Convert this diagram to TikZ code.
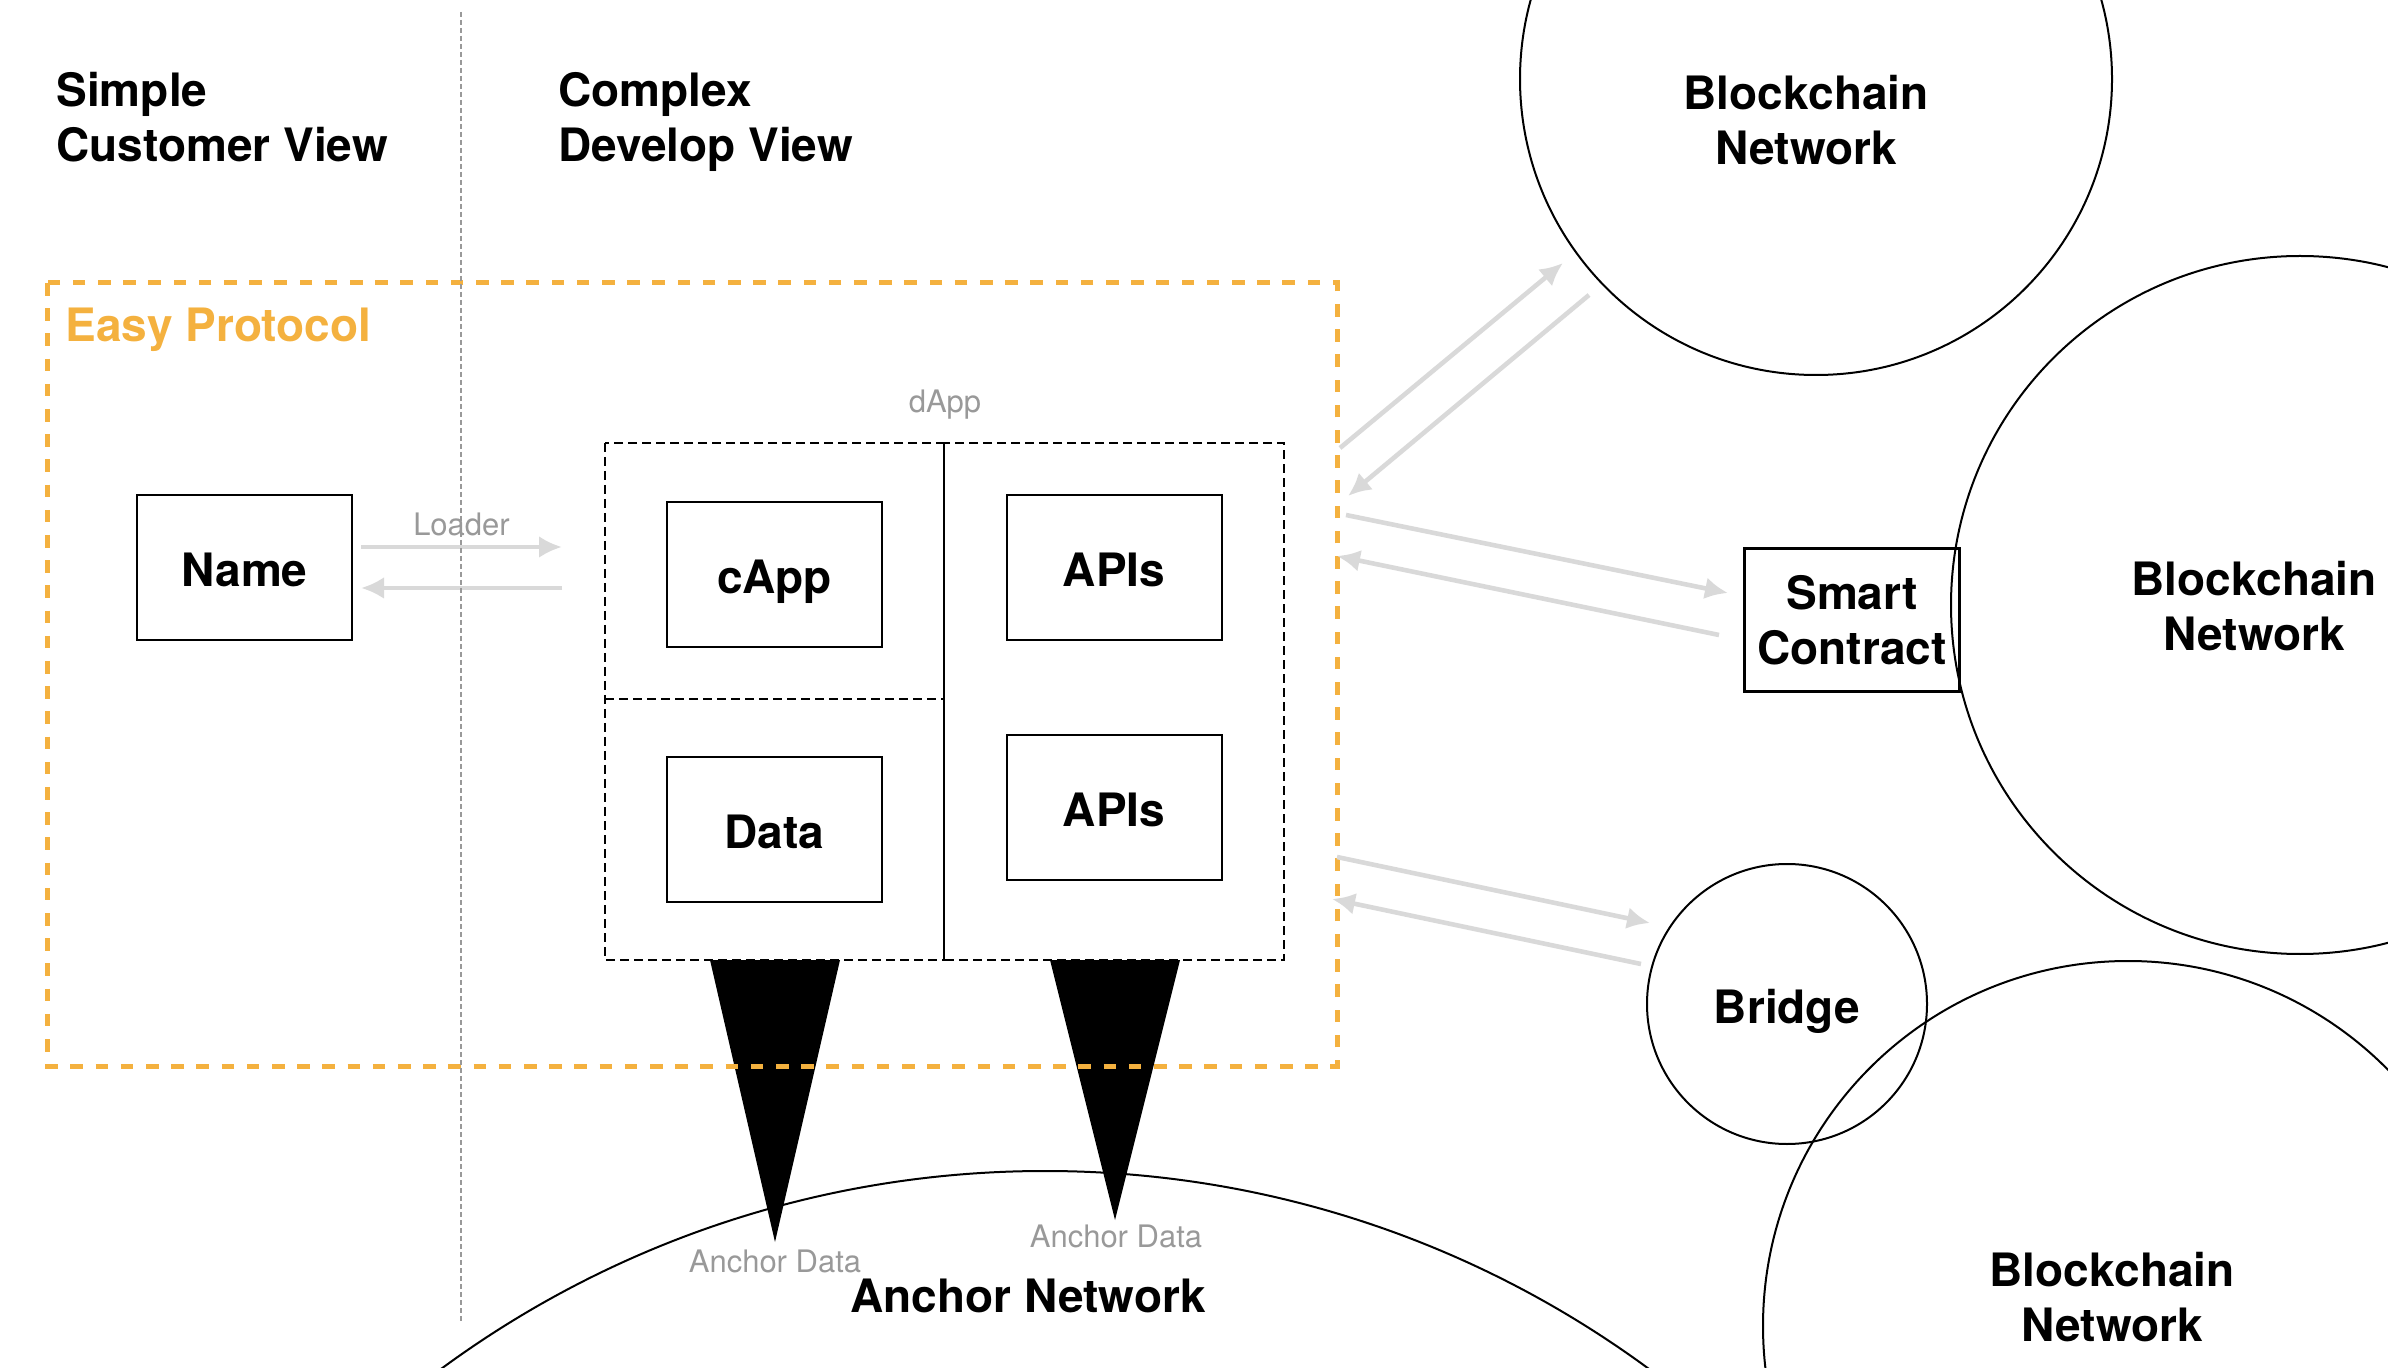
\documentclass[tikz,border=0pt]{standalone}
\usepackage{fontspec}
\setmainfont{TeX Gyre Heros}
\usepackage{xcolor}
\usetikzlibrary{arrows.meta,positioning}
\definecolor{easyorange}{RGB}{244,177,63}
\definecolor{softgray}{RGB}{217,217,217}
\definecolor{textgray}{RGB}{153,153,153}
\tikzset{
    plainbox/.style = {rectangle, draw, line width=1pt, inner sep=0pt, minimum width=107.5pt, minimum height=72.5pt, font=\fontsize{23}{27.5}\selectfont\bfseries},
    box/.style = {plainbox, text height=19pt, text depth=0pt},
    title/.style = {inner sep=0pt, font=\fontsize{23}{27.5}\selectfont\bfseries},
    net/.style = {circle, draw, line width=1pt, inner sep=0pt},
    hint/.style = {inner sep=0pt, text=textgray, font=\fontsize{15.5}{18}\selectfont},
    flow/.style = {-{Latex[length=11.5pt,width=11pt]}, draw=softgray, line width=2.3pt},
    cell/.style = {draw, line width=0.9pt, dash pattern=on 4.5pt off 2.5pt}
}

\begin{document}
\begin{tikzpicture}[x=0.5pt, y=-0.5pt]
    \useasboundingbox (0,0) rectangle (2388,1368);
    \clip (0,0) rectangle (2388,1368);

    % Networks
    \node[net, minimum size=296pt] (chaintop) at (1816,79) {};
    \node[net, minimum size=349pt] (chainmid) at (2300,605) {};
    \node[net, minimum size=365pt] (chainlow) at (2128,1326) {};
    \node[net, minimum size=1020pt] (anchornet) at (1045,2191) {};
    \node[net, minimum size=140pt, text height=19pt, text depth=0pt, font=\fontsize{23}{27.5}\selectfont\bfseries] (bridge) at (1787,1004) {Bridge};

    % dApp cells
    \draw[cell] (605,443) rectangle (944,960);
    \draw[cell] (605,699) -- (944,699);
    \draw[cell] (944,443) rectangle (1284,960);

    % Boxes
    \node[box] (name) at (244.5,567.5) {Name};
    \node[box] (capp) at (774.5,575) {cApp};
    \node[box] (apistop) at (1114,567.5) {APIs};
    \node[box] (data) at (774.5,829.5) {Data};
    \node[box] (apislow) at (1114,807.5) {APIs};
    \node[plainbox, line width=1.5pt, minimum height=71.5pt, align=center] (smart) at (1852,620) {Smart\\Contract};

    % Anchor funnels
    \fill (710,960) -- (840,960) -- (775,1242) -- cycle;
    \fill (1050,960) -- (1180,960) -- (1115,1220) -- cycle;

    % Easy Protocol frame
    \draw[easyorange, line width=2.5pt, dash pattern=on 6.3pt off 6.3pt] (47,283) rectangle (1337,1066);

    % Arrow ends
    \coordinate (ldA) at (361,547);  \coordinate (ldB) at (562,547);
    \coordinate (ldC) at (562,588);  \coordinate (ldD) at (361,588);
    \coordinate (upA) at (1340,448); \coordinate (upB) at (1563,263);
    \coordinate (upC) at (1589,295); \coordinate (upD) at (1348,496);
    \coordinate (scA) at (1346,515); \coordinate (scB) at (1728,593);
    \coordinate (scC) at (1719,635); \coordinate (scD) at (1337,556);
    \coordinate (brA) at (1337,857); \coordinate (brB) at (1650,923);
    \coordinate (brC) at (1641,964); \coordinate (brD) at (1332,899);

    % Edges with arrows
    \draw[flow] (ldA) -- node[hint, above=4.5pt] {Loader} (ldB);
    \draw[flow] (ldC) -- (ldD);
    \draw[flow] (upA) -- (upB);
    \draw[flow] (upC) -- (upD);
    \draw[flow] (scA) -- (scB);
    \draw[flow] (scC) -- (scD);
    \draw[flow] (brA) -- (brB);
    \draw[flow] (brC) -- (brD);

    % View divider
    \draw[textgray, line width=1pt, dash pattern=on 2.5pt off 1.5pt] (461,12) -- (461,1322);

    % Labels
    \node[title, anchor=north west, align=left] (simple) at (56,72) {Simple\\Customer View};
    \node[title, anchor=north west, align=left] (complex) at (558,72) {Complex\\Develop View};
    \node[title, anchor=base west, text=easyorange] (easy) at (65,342) {Easy Protocol};
    \node[hint] (dapp) at (945,405) {dApp};
    \node[title, align=center] (chaintoplabel) at (1806,120) {Blockchain\\Network};
    \node[title, align=center] (chainmidlabel) at (2254,606) {Blockchain\\Network};
    \node[title, align=center] (chainlowlabel) at (2112,1297) {Blockchain\\Network};
    \node[title] (anchorlabel) at (1028,1296) {Anchor Network};
    \node[hint, anchor=base] (dataA) at (775,1272) {Anchor Data};
    \node[hint, anchor=base] (dataB) at (1116,1247) {Anchor Data};

\end{tikzpicture}
\end{document}
